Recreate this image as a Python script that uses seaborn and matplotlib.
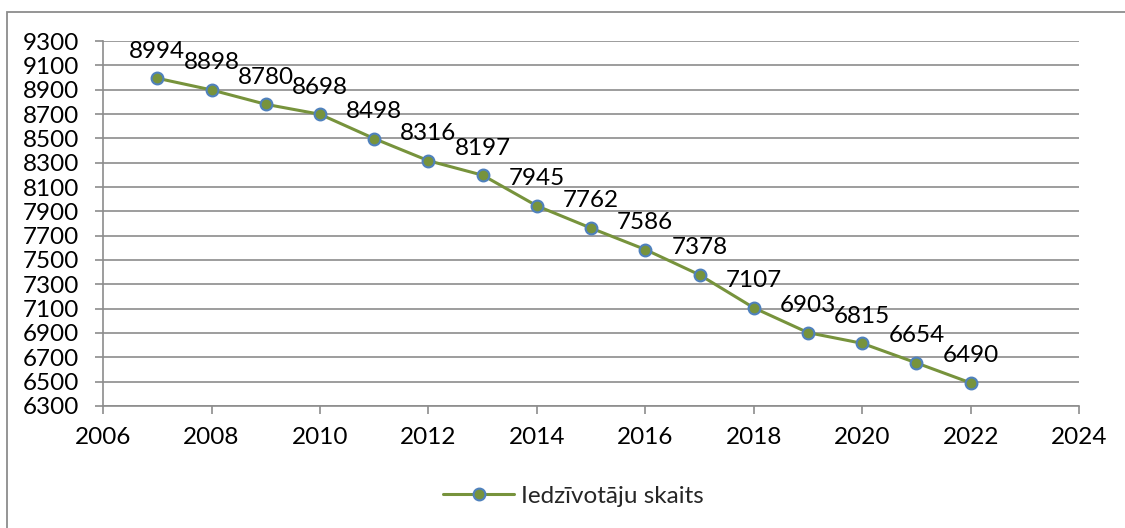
import matplotlib
matplotlib.use("Agg")
import matplotlib.pyplot as plt
import seaborn as sns
import pandas as pd
from matplotlib.patches import Rectangle

years = [2007, 2008, 2009, 2010, 2011, 2012, 2013, 2014,
         2015, 2016, 2017, 2018, 2019, 2020, 2021, 2022]
population = [8994, 8898, 8780, 8698, 8498, 8316, 8197, 7945,
              7762, 7586, 7378, 7107, 6903, 6815, 6654, 6490]
series_name = "Iedzīvotāju skaits"

df = pd.DataFrame({"year": years, "value": population})

sns.set_style("white")
plt.rcParams["font.family"] = ["Lato", "DejaVu Sans"]

fig = plt.figure(figsize=(11.25, 5.28), dpi=100)
ax = fig.add_axes([0.0916, 0.2311, 0.8676, 0.6912])

# outer chart border (Excel style)
fig.patches.append(Rectangle((7 / 1125, -0.05), 1.2, 1 - 12 / 528 + 0.05,
                             transform=fig.transFigure, fill=False,
                             edgecolor="#8c8c8c", linewidth=1.3))

sns.lineplot(data=df, x="year", y="value", ax=ax, color="#77933C",
             linewidth=2.2, marker="o", markersize=8.5,
             markerfacecolor="#77933C", markeredgecolor="#4F81BD",
             markeredgewidth=1.5, label=series_name)

for x, y in zip(years, population):
    ax.annotate(str(y), (x, y), xytext=(0, 12), textcoords="offset points",
                ha="center", va="bottom", fontsize=17.5, color="black")

ax.set_xlim(2006, 2024)
ax.set_ylim(6300, 9300)
ax.set_xticks(range(2006, 2025, 2))
ax.set_yticks(range(6300, 9301, 200))
ax.set_xlabel("")
ax.set_ylabel("")

ax.grid(axis="y", color="#8c8c8c", linewidth=1.2)
ax.grid(axis="x", visible=False)
ax.set_axisbelow(True)
for side in ["top", "right"]:
    ax.spines[side].set_visible(False)
for side in ["left", "bottom"]:
    ax.spines[side].set_color("#8c8c8c")
    ax.spines[side].set_linewidth(1.2)

ax.tick_params(axis="both", direction="out", length=6, width=1.2,
               color="#8c8c8c", labelsize=17.5, labelcolor="black")
ax.tick_params(axis="y", pad=11)
ax.tick_params(axis="x", pad=9)
ax.tick_params(axis="x", bottom=True)
ax.tick_params(axis="y", left=True)

ax.legend(loc="center", bbox_to_anchor=(0.51, 0.06),
          bbox_transform=fig.transFigure, frameon=False, fontsize=17.5,
          handlelength=2.9, handletextpad=0.3)

fig.savefig("out.png", dpi=100)
